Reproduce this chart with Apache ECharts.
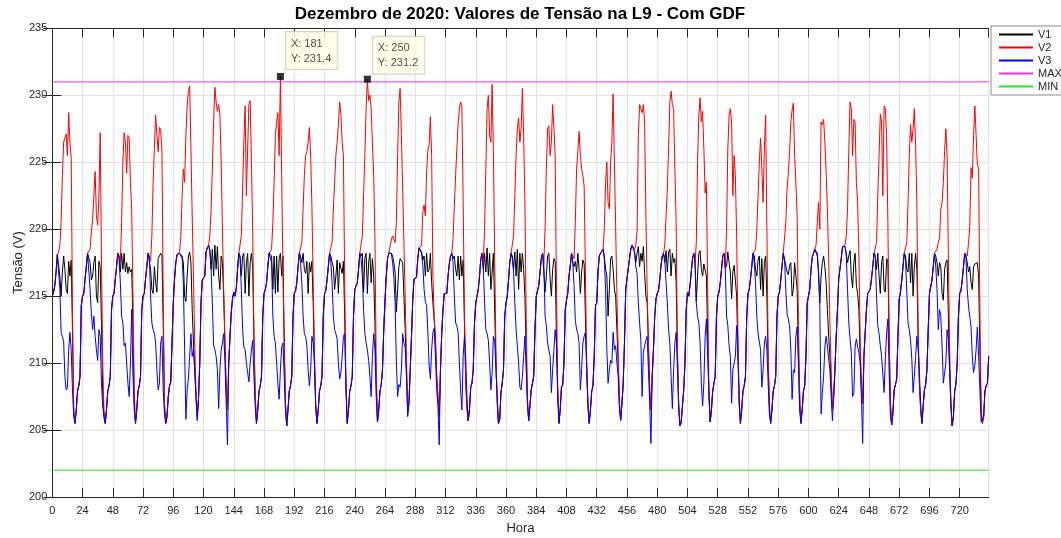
<!DOCTYPE html>
<html>
<head>
<meta charset="utf-8">
<title>Dezembro de 2020: Valores de Tensão na L9 - Com GDF</title>
<script src="https://cdn.jsdelivr.net/npm/echarts@6/dist/echarts.min.js"></script>
<style>
  html, body { margin: 0; padding: 0; background: #ffffff; }
  #chart { width: 1061px; height: 538px; }
</style>
</head>
<body>
<div id="chart"></div>
<script>
// Hourly phase voltages for December 2020 (one row per day, hours 0..23)
const v1 = [
  215.0,215.3,215.8,216.8,218.1,218.2,216.5,215.0,216.8,218.0,217.0,215.5,215.2,217.6,216.5,217.7,212.5,206.3,205.5,206.5,207.9,208.3,209.0,214.3,
  215.0,215.2,216.3,217.2,218.2,218.2,217.5,216.2,216.5,217.5,218.0,215.0,214.5,217.6,217.2,213.0,208.0,206.0,205.5,206.5,207.9,208.3,209.0,214.0,
  215.0,215.2,216.3,217.2,218.2,218.0,216.8,218.2,217.0,218.2,216.8,217.5,216.7,217.2,216.8,217.0,213.0,207.0,205.5,206.5,207.9,208.3,209.0,214.0,
  215.0,215.2,216.3,217.2,218.2,218.2,217.0,215.5,215.2,217.2,216.0,215.3,217.8,218.0,218.2,218.0,213.0,207.0,205.5,206.0,207.5,208.3,208.6,211.5,
  214.5,216.3,217.5,218.1,218.2,218.2,218.3,218.0,217.5,215.0,214.6,216.5,218.0,218.3,217.5,214.0,211.5,209.5,207.5,206.0,207.3,210.0,214.5,216.2,
  216.3,216.5,218.3,218.6,218.8,218.5,217.0,218.5,216.5,218.8,217.0,218.7,216.5,215.5,218.0,217.5,215.0,211.5,208.0,206.5,210.0,212.0,213.8,214.8,
  215.3,215.0,215.6,217.0,218.2,218.0,216.5,218.0,218.2,215.2,217.5,218.2,215.0,217.5,218.2,217.2,212.0,207.5,205.5,206.5,207.9,208.3,209.0,213.5,
  215.2,215.5,216.0,217.2,218.2,218.2,218.0,215.5,218.0,215.2,218.0,215.3,217.8,218.2,216.5,218.0,212.0,207.0,205.3,206.5,207.9,208.3,209.0,213.5,
  215.2,215.4,216.0,217.2,218.2,218.0,217.5,218.2,217.0,216.7,217.6,215.2,217.5,216.8,217.6,214.5,210.0,206.8,205.5,206.5,207.9,208.3,209.0,213.5,
  215.2,215.4,216.2,217.2,218.2,218.0,217.5,217.2,215.5,216.5,217.7,215.2,217.5,217.5,216.7,217.6,213.5,208.0,205.5,206.5,207.9,208.3,209.0,213.5,
  215.5,215.4,216.0,217.0,218.2,218.0,218.2,215.3,217.8,218.2,215.2,217.5,218.2,216.0,217.8,216.5,213.0,208.5,205.6,206.5,207.9,208.4,209.5,212.5,
  214.7,216.5,217.8,218.2,218.2,218.2,218.0,217.5,216.8,213.8,215.5,217.2,217.8,217.8,217.5,215.0,212.5,209.5,206.3,207.0,209.5,212.0,214.7,216.3,
  216.3,216.4,217.8,218.6,218.7,218.3,217.7,218.0,216.5,218.2,216.8,217.0,218.2,216.0,214.5,214.4,212.0,209.0,207.5,206.0,209.5,212.2,214.0,215.2,
  215.2,215.2,216.5,217.4,218.0,218.2,217.8,218.0,217.0,216.5,218.0,216.2,218.0,216.5,217.7,213.0,209.0,206.8,205.7,206.5,208.2,208.5,209.5,213.0,
  214.5,215.0,215.5,216.5,217.8,218.0,217.0,218.2,216.8,218.6,216.5,218.2,215.5,216.8,218.2,214.0,210.0,207.0,205.5,205.8,207.8,208.5,209.5,213.5,
  214.5,215.0,216.2,217.5,218.2,218.0,217.0,218.3,216.5,218.5,215.5,218.2,216.8,218.2,217.0,215.0,211.0,207.0,205.7,205.8,208.0,208.5,209.0,212.5,
  215.0,215.1,215.8,216.8,217.8,218.2,216.8,215.3,216.5,218.0,218.2,216.3,215.0,217.0,217.8,217.6,212.0,207.5,205.5,206.5,208.2,208.4,210.0,214.0,
  214.7,215.2,216.5,217.3,218.2,217.5,217.2,217.6,216.8,218.2,217.0,215.2,216.8,217.7,217.4,213.5,209.5,206.8,205.5,206.5,207.9,208.3,210.5,214.3,
  214.5,216.8,218.0,218.2,218.2,218.5,218.0,217.0,216.5,213.5,215.5,217.8,218.0,217.0,215.5,215.0,212.5,210.0,207.0,205.8,207.0,208.5,211.5,215.5,
  216.3,216.4,217.8,218.5,218.8,218.8,218.3,217.5,218.2,218.7,217.2,218.2,217.6,218.7,216.7,215.0,214.5,211.5,208.0,206.5,209.0,211.0,213.5,214.8,
  215.2,215.4,216.2,217.3,218.0,218.2,217.5,218.4,216.8,218.3,218.5,216.5,218.2,217.5,217.8,216.0,211.0,207.0,205.3,205.6,206.8,208.0,210.0,214.0,
  215.3,215.0,215.8,216.8,217.8,218.2,217.3,214.6,216.5,218.2,218.4,217.0,216.5,217.4,217.3,216.5,212.0,207.5,205.6,206.5,207.9,208.5,209.0,213.5,
  215.0,215.3,216.0,217.0,218.0,218.2,217.5,217.2,218.3,217.5,216.8,214.8,216.8,217.3,217.2,215.0,211.0,207.0,205.5,206.5,207.9,208.3,209.0,213.5,
  215.2,215.5,216.3,217.2,218.2,218.0,217.0,216.5,217.7,218.0,215.5,217.8,215.0,217.5,218.0,215.0,210.0,206.8,205.5,206.5,207.9,208.3,209.0,213.5,
  215.0,215.3,216.2,217.2,218.2,218.2,217.3,216.8,216.6,217.3,217.5,215.0,215.5,217.5,217.6,215.5,211.0,207.0,205.5,206.5,207.9,208.3,210.5,214.5,
  215.0,215.5,217.0,217.9,218.2,218.5,218.6,218.2,216.5,214.5,216.5,217.5,218.0,217.2,216.0,214.0,212.0,210.5,208.5,206.5,207.5,209.5,212.0,214.0,
  216.3,216.4,217.8,218.7,218.8,218.7,218.2,217.5,218.0,218.4,216.5,215.6,217.5,218.2,215.8,215.2,214.0,210.5,208.0,207.0,210.5,212.3,214.0,215.2,
  215.2,215.5,216.3,217.2,218.2,218.0,217.0,218.2,216.5,215.2,217.5,218.0,215.5,215.3,217.8,217.5,212.0,207.0,205.4,206.3,208.0,208.4,208.8,212.0,
  214.8,215.3,216.2,217.2,218.2,218.0,217.0,216.8,218.2,216.0,218.2,215.0,217.2,218.2,217.0,212.0,208.5,206.5,205.5,206.8,208.0,208.4,209.5,212.5,
  215.2,215.3,216.2,217.2,218.2,218.0,217.5,216.5,217.5,217.2,215.2,214.7,217.0,217.5,217.7,213.5,209.5,206.8,205.3,206.0,207.9,208.4,210.0,213.5,
  215.2,215.4,216.2,217.2,218.2,218.0,217.5,216.8,217.2,216.0,215.5,217.2,217.4,217.5,217.5,216.5,211.0,206.5,205.5,206.0,207.9,208.3,208.5,210.5
];
const v2 = [
  215.0,215.3,215.8,216.8,218.1,218.3,218.8,220.5,224.0,226.5,226.8,227.1,225.5,228.7,226.5,225.3,214.0,206.5,205.5,206.5,207.9,208.3,209.0,214.3,
  215.0,215.2,216.3,217.2,218.2,218.2,218.5,219.8,220.8,222.5,224.3,221.0,220.3,222.5,227.2,218.0,210.0,206.5,205.5,206.5,207.9,208.3,209.0,214.0,
  215.0,215.2,216.3,217.2,218.2,218.0,217.5,220.5,225.0,227.2,226.5,224.2,227.0,226.8,223.5,221.5,215.0,208.0,205.5,206.5,207.9,208.3,209.0,214.0,
  215.0,215.2,216.3,217.2,218.2,218.2,217.6,219.5,223.5,226.0,228.5,227.0,225.8,227.6,227.4,225.8,215.0,207.0,205.5,206.0,207.5,208.3,208.6,211.5,
  214.5,216.3,217.5,218.1,218.2,218.3,219.5,222.5,224.5,223.5,227.0,229.2,230.3,230.7,226.0,221.0,216.5,211.5,208.0,206.0,207.3,210.0,214.5,216.2,
  216.3,216.5,218.3,218.6,218.8,219.5,221.5,224.5,228.0,230.6,229.5,228.8,229.3,228.5,225.0,220.0,215.5,211.5,208.0,206.5,210.0,212.0,213.8,214.8,
  215.3,215.0,215.6,217.0,218.2,218.3,219.5,223.0,226.6,229.2,222.5,226.0,229.3,229.6,225.0,220.0,212.0,207.5,205.5,206.5,207.9,208.3,209.0,213.5,
  215.2,215.5,216.0,217.2,218.2,218.2,218.5,220.5,223.5,227.0,228.0,228.7,225.5,231.4,224.0,217.0,211.0,207.0,205.3,206.5,207.9,208.3,209.0,213.5,
  215.2,215.4,216.0,217.2,218.2,218.2,219.0,221.5,224.0,225.5,225.8,226.5,227.6,225.5,221.7,216.0,211.0,207.0,205.5,206.5,207.9,208.3,209.0,213.5,
  215.2,215.4,216.2,217.2,218.2,218.2,219.0,221.5,223.5,225.5,226.5,227.8,229.5,228.5,226.5,225.5,216.0,208.5,205.5,206.5,207.9,208.3,209.0,213.5,
  215.5,215.4,216.0,217.0,218.2,218.3,219.5,222.5,225.5,229.0,231.2,229.6,230.0,229.0,226.5,224.0,219.5,210.0,205.6,206.5,207.9,208.4,209.5,212.5,
  214.7,216.5,217.8,218.2,218.2,219.2,219.5,219.6,219.0,220.5,225.5,229.5,230.5,227.0,223.0,219.0,215.0,210.5,206.5,207.0,209.5,212.0,214.7,216.3,
  216.3,216.4,217.8,218.6,218.7,218.8,221.3,221.8,221.0,224.2,225.9,226.3,228.4,225.5,216.5,213.5,211.5,209.0,207.5,206.0,209.5,212.2,214.0,215.2,
  215.2,215.2,216.5,217.4,218.0,218.2,219.3,221.7,224.0,226.0,227.9,229.0,229.5,229.2,222.0,214.0,208.5,206.5,205.7,206.5,208.2,208.5,209.5,213.0,
  214.5,215.0,215.5,216.5,217.8,218.2,217.5,220.0,224.5,229.0,230.0,227.0,226.5,230.8,225.8,218.0,211.0,207.5,205.5,205.8,207.8,208.5,209.5,213.5,
  214.5,215.0,216.2,217.5,218.2,218.2,219.5,222.5,225.5,227.5,228.3,226.5,227.5,230.5,227.0,222.0,213.5,207.5,205.7,205.8,208.0,208.5,209.0,212.5,
  215.0,215.1,215.8,216.8,217.8,218.2,217.5,220.0,224.5,227.5,227.7,225.5,226.5,229.3,227.6,225.5,216.0,208.5,205.5,206.5,208.2,208.4,210.0,214.0,
  214.7,215.2,216.5,217.3,218.2,218.2,217.8,220.5,224.5,225.8,227.3,225.5,224.5,224.0,223.2,217.0,210.0,207.0,205.5,206.5,207.9,208.3,210.5,214.3,
  214.5,216.8,218.0,218.2,218.2,218.5,220.0,223.5,225.0,222.0,221.5,225.0,226.5,230.1,225.0,220.2,215.0,211.0,207.0,205.8,207.0,208.5,211.5,215.5,
  216.3,216.4,217.8,218.5,218.8,218.8,218.5,218.8,219.8,227.0,229.3,229.0,228.7,229.3,228.0,221.0,215.5,211.5,208.0,206.5,209.0,211.0,213.5,214.8,
  215.2,215.4,216.2,217.3,218.0,218.2,218.8,221.0,223.0,226.0,229.5,230.3,229.3,229.0,224.5,220.5,211.0,207.0,205.3,205.6,206.8,208.0,210.0,214.0,
  215.3,215.0,215.8,216.8,217.8,218.2,217.5,219.0,225.0,228.5,229.8,228.0,228.8,226.0,222.7,223.5,216.0,208.0,205.6,206.5,207.9,208.5,209.0,213.5,
  215.0,215.3,216.0,217.0,218.0,218.2,217.0,220.0,226.0,228.5,229.0,228.0,222.5,225.5,224.0,219.5,212.5,207.0,205.5,206.5,207.9,208.3,209.0,213.5,
  215.2,215.5,216.3,217.2,218.2,218.2,218.5,220.0,222.5,225.0,226.8,224.5,222.0,226.0,228.5,220.0,211.0,206.5,205.5,206.5,207.9,208.3,209.0,213.5,
  215.0,215.3,216.2,217.2,218.2,218.2,220.5,223.0,224.2,225.8,228.0,228.9,229.4,225.5,223.5,221.0,213.0,208.0,205.5,206.5,207.9,208.3,210.5,214.5,
  215.0,215.5,217.0,217.9,218.2,218.5,218.8,220.5,222.0,220.0,228.0,227.8,228.2,226.5,224.3,221.5,218.0,213.0,209.5,206.5,207.5,209.5,212.0,214.0,
  216.3,216.4,217.8,218.7,218.8,218.8,219.5,221.5,226.0,229.5,229.0,225.5,228.2,228.0,223.5,222.0,218.0,212.0,208.5,207.0,210.5,212.3,214.0,215.2,
  215.2,215.5,216.3,217.2,218.2,218.2,219.0,222.5,225.5,228.6,228.0,222.5,229.2,229.0,227.0,220.5,212.0,207.0,205.4,206.3,208.0,208.4,208.8,212.0,
  214.8,215.3,216.2,217.2,218.2,218.2,219.0,222.0,225.5,227.8,226.5,227.5,229.0,226.3,222.0,212.5,208.5,206.5,205.5,206.8,208.0,208.4,209.5,212.5,
  215.2,215.3,216.2,217.2,218.2,218.3,218.5,219.0,219.3,221.5,222.0,223.5,225.8,227.5,225.5,218.0,211.0,207.0,205.3,206.0,207.9,208.4,210.0,213.5,
  215.2,215.4,216.2,217.2,218.2,218.2,218.0,219.0,220.2,224.6,223.8,227.0,229.2,227.0,224.8,224.6,214.0,206.5,205.5,206.0,207.9,208.3,208.5,210.5
];
const v3 = [
  215.0,215.3,215.8,216.8,218.1,218.2,215.5,212.3,212.0,211.6,209.0,208.0,208.2,211.0,212.3,211.0,208.0,206.0,205.5,206.5,207.9,208.3,209.0,214.3,
  215.0,215.2,216.3,217.2,218.2,218.2,215.5,213.7,212.5,213.5,212.0,211.0,210.2,212.5,212.0,208.5,206.8,206.0,205.5,206.5,207.9,208.3,209.0,214.0,
  215.0,215.2,216.3,217.2,218.2,217.8,216.0,213.5,213.0,211.3,211.5,210.0,208.5,207.5,210.0,214.0,209.0,206.5,205.5,206.5,207.9,208.3,209.0,214.0,
  215.0,215.2,216.3,217.2,218.2,218.0,215.0,213.0,212.5,212.2,211.5,209.5,208.0,208.5,211.5,212.0,208.0,206.2,205.5,206.0,207.5,208.3,208.6,211.5,
  214.5,216.3,217.5,218.1,218.2,218.2,218.2,217.8,216.0,211.0,205.8,208.0,208.8,210.5,212.2,210.5,211.0,209.5,207.5,205.7,207.3,210.0,214.5,216.2,
  216.3,216.5,218.3,218.6,218.8,218.3,217.0,214.5,211.3,211.0,210.5,209.5,206.6,209.5,211.0,211.5,212.2,210.0,207.0,203.9,210.0,212.0,213.8,214.8,
  215.3,215.0,215.6,217.0,218.2,217.8,215.5,212.5,211.2,211.0,210.0,209.3,208.6,210.0,211.0,211.7,209.0,206.8,205.5,206.5,207.9,208.3,209.0,213.5,
  215.2,215.5,216.0,217.2,218.2,218.2,217.5,213.5,212.0,211.5,210.0,208.5,207.3,209.5,211.2,211.5,209.0,206.5,205.3,206.5,207.9,208.3,209.0,213.5,
  215.2,215.4,216.0,217.2,218.2,217.5,216.0,213.5,212.2,212.0,211.3,209.5,208.3,209.5,212.0,211.5,210.0,206.8,205.5,206.5,207.9,208.3,209.0,213.5,
  215.2,215.4,216.2,217.2,218.2,217.6,216.0,213.5,212.5,212.2,211.8,210.0,208.8,209.3,210.5,212.0,212.2,208.5,205.5,206.5,207.9,208.3,209.0,213.5,
  215.5,215.4,216.0,217.0,218.2,217.8,216.5,214.0,212.2,211.5,211.0,210.2,209.0,207.5,210.5,212.2,211.0,207.5,205.6,206.5,207.9,208.4,209.5,212.5,
  214.7,216.5,217.8,218.2,218.2,218.2,217.5,216.5,214.5,210.0,207.5,208.4,208.2,209.5,212.2,211.5,211.2,209.0,206.0,207.0,209.5,212.0,214.7,216.3,
  216.3,216.4,217.8,218.6,218.7,218.2,217.3,215.5,214.6,214.3,212.3,209.8,208.8,211.0,212.3,212.6,210.5,208.0,206.8,203.9,209.5,212.2,214.0,215.2,
  215.2,215.2,216.5,217.4,218.0,218.2,217.5,215.0,213.0,212.8,212.3,210.0,208.0,206.5,210.5,212.0,210.5,207.5,205.7,206.5,208.2,208.5,209.5,213.0,
  214.5,215.0,215.5,216.5,217.8,218.2,217.2,214.5,212.5,212.2,211.7,210.0,208.0,209.3,212.0,211.7,209.5,207.5,205.5,205.8,207.8,208.5,209.5,213.5,
  214.5,215.0,216.2,217.5,218.2,217.8,216.8,214.5,212.5,211.3,210.0,208.2,208.0,209.0,210.5,212.0,209.5,207.0,205.7,205.8,208.0,208.5,209.0,212.5,
  215.0,215.1,215.8,216.8,217.8,218.2,217.5,213.5,212.8,211.5,211.6,210.5,207.8,209.5,211.0,212.5,211.5,208.0,205.5,206.5,208.2,208.4,210.0,214.0,
  214.7,215.2,216.5,217.3,218.2,217.5,215.8,213.2,212.5,212.2,211.5,208.0,209.5,211.5,212.0,212.3,210.0,207.0,205.5,206.5,207.9,208.3,210.5,214.3,
  214.5,216.8,218.0,218.2,218.2,218.5,217.8,215.5,211.0,208.5,209.5,210.2,210.0,212.3,211.0,211.3,210.0,209.0,206.5,205.7,207.0,208.5,211.5,215.5,
  216.3,216.4,217.8,218.5,218.8,218.8,218.3,217.2,216.7,214.5,213.0,211.7,207.5,210.8,211.3,211.7,212.0,209.5,207.0,204.0,209.0,211.0,213.5,214.8,
  215.2,215.4,216.2,217.3,218.0,218.2,217.7,216.0,214.5,212.5,211.5,209.0,206.6,209.5,211.5,212.3,209.5,206.5,205.3,205.6,206.8,208.0,210.0,214.0,
  215.3,215.0,215.8,216.8,217.8,218.2,217.8,214.5,213.5,213.0,211.5,208.5,206.8,208.5,212.0,213.3,210.5,208.0,205.6,206.5,207.9,208.5,209.0,213.5,
  215.0,215.3,216.0,217.0,218.0,218.2,217.0,213.5,212.8,211.3,210.5,207.0,209.5,210.0,210.5,212.8,210.5,207.5,205.5,206.5,207.9,208.3,209.0,213.5,
  215.2,215.5,216.3,217.2,218.2,217.5,216.0,213.5,212.2,212.2,211.0,208.2,209.5,211.5,212.0,211.0,208.5,206.2,205.5,206.5,207.9,208.3,209.0,213.5,
  215.0,215.3,216.2,217.2,218.2,217.7,215.5,213.7,213.3,212.8,211.0,207.3,209.5,209.3,212.0,212.7,210.0,206.5,205.5,206.5,207.9,208.3,210.5,214.5,
  215.0,215.5,217.0,217.9,218.2,218.5,218.6,218.0,217.0,214.2,206.2,207.8,209.0,211.2,212.0,211.3,210.3,209.5,207.5,205.7,207.5,209.5,212.0,214.0,
  216.3,216.4,217.8,218.7,218.8,218.7,218.0,215.5,213.0,211.8,210.8,207.5,207.8,211.2,211.8,211.2,210.8,210.0,207.5,204.0,210.5,212.3,214.0,215.2,
  215.2,215.5,216.3,217.2,218.2,218.0,215.0,212.8,212.2,211.3,210.5,209.2,207.8,210.3,212.2,213.3,209.3,206.0,205.4,206.3,208.0,208.4,208.8,212.0,
  214.8,215.3,216.2,217.2,218.2,217.8,215.3,213.0,212.5,211.7,210.3,207.8,209.0,210.5,212.0,211.0,209.3,207.0,205.5,206.8,208.0,208.4,209.5,212.5,
  215.2,215.3,216.2,217.2,218.2,217.2,215.5,212.5,214.0,213.5,211.3,208.5,208.5,210.0,212.5,211.7,209.5,207.0,205.3,206.0,207.9,208.4,210.0,213.5,
  215.2,215.4,216.2,217.2,218.2,217.8,215.5,214.2,213.5,212.7,210.5,209.3,209.8,211.0,212.7,210.5,208.0,205.6,205.5,206.0,207.9,208.3,208.5,210.5
];

// Regulatory limits (V)
const limitMax = 231;
const limitMin = 202;

// Hours highlighted with data tips on the V2 curve
const tipHours = [181, 250];

// Axis layout
const hourFirst = 0;
const hourLast = v1.length - 1;
const hourStep = 24;
const voltFloor = 200;
const voltCeil = 235;
const voltStep = 5;

const font = '"Liberation Sans", Arial, Helvetica, sans-serif';
const ink = '#262626';
const gridInk = '#e1e1e1';

const asPairs = arr => arr.map((v, i) => [i, v]);

function lineSeries(name, values, color) {
  return {
    name: name,
    type: 'line',
    data: values,
    symbol: 'none',
    showSymbol: false,
    lineStyle: { color: color, width: 1 },
    itemStyle: { color: color },
    emphasis: { disabled: true },
    animation: false,
    xAxisIndex: 0,
    yAxisIndex: 0
  };
}

const tipOffsets = [[9, -41], [9, -39]];

const tipSeries = {
  name: 'tips',
  type: 'scatter',
  symbol: 'rect',
  symbolSize: 7,
  itemStyle: { color: '#000000' },
  z: 10,
  animation: false,
  data: tipHours.map((h, i) => ({
    value: [h, v2[h]],
    label: {
      show: true,
      position: tipOffsets[i],
      align: 'left',
      verticalAlign: 'top',
      formatter: p => 'X: ' + p.value[0] + '\nY: ' + p.value[1].toFixed(1),
      fontFamily: font,
      fontSize: 11,
      lineHeight: 15,
      color: '#222222',
      backgroundColor: '#ffffe6',
      borderColor: '#c8c8b4',
      borderWidth: 1,
      padding: [4, 6, 3, 5]
    }
  }))
};

const chart = echarts.init(document.getElementById('chart'), null, { renderer: 'canvas' });

chart.setOption({
  animation: false,
  backgroundColor: '#ffffff',
  textStyle: { fontFamily: font },
  title: {
    text: 'Dezembro de 2020: Valores de Tensão na L9 - Com GDF',
    left: 520,
    top: 6,
    textAlign: 'center',
    padding: 0,
    textStyle: { fontFamily: font, fontSize: 17, fontWeight: 'bold', color: '#000000' }
  },
  legend: {
    data: ['V1', 'V2', 'V3', 'MAX', 'MIN'],
    orient: 'vertical',
    left: 991,
    top: 26,
    padding: [3, 8, 3, 7],
    itemWidth: 34,
    itemHeight: 13,
    itemGap: 2,
    itemStyle: { opacity: 0 },
    backgroundColor: '#ffffff',
    borderColor: '#8c8c8c',
    borderWidth: 1,
    borderRadius: 0,
    textStyle: { fontFamily: font, fontSize: 11, color: ink },
    selectedMode: false
  },
  grid: {
    left: 52.3,
    right: 72.3,
    top: 28.3,
    bottom: 41,
    containLabel: false,
    outerBoundsMode: 'none'
  },
  xAxis: [
    {
      type: 'value',
      position: 'bottom',
      min: hourFirst,
      max: hourLast,
      interval: hourStep,
      name: 'Hora',
      nameLocation: 'middle',
      nameGap: 25,
      nameMoveOverlap: false,
      nameTextStyle: { fontFamily: font, fontSize: 13, color: ink },
      axisLine: { show: true, lineStyle: { color: ink, width: 1 } },
      axisTick: { show: true, inside: true, length: 9, lineStyle: { color: ink } },
      axisLabel: { show: true, margin: 8, fontSize: 11, color: ink, showMaxLabel: false, fontFamily: font },
      splitLine: { show: true, lineStyle: { color: gridInk, width: 1 } }
    },
    {
      type: 'value',
      position: 'top',
      min: hourFirst,
      max: hourLast,
      interval: hourStep,
      axisLine: { show: true, lineStyle: { color: ink, width: 1 } },
      axisTick: { show: true, inside: true, length: 9, lineStyle: { color: ink } },
      axisLabel: { show: false },
      splitLine: { show: false }
    }
  ],
  yAxis: [
    {
      type: 'value',
      position: 'left',
      min: voltFloor,
      max: voltCeil,
      interval: voltStep,
      name: 'Tensão (V)',
      nameLocation: 'middle',
      nameGap: 27,
      nameMoveOverlap: false,
      nameTextStyle: { fontFamily: font, fontSize: 13, color: ink },
      axisLine: { show: true, lineStyle: { color: ink, width: 1 } },
      axisTick: { show: true, inside: true, length: 9, lineStyle: { color: ink } },
      axisLabel: { show: true, margin: 5, fontSize: 11, color: ink, fontFamily: font },
      splitLine: { show: true, lineStyle: { color: gridInk, width: 1 } }
    },
    {
      type: 'value',
      position: 'right',
      min: voltFloor,
      max: voltCeil,
      interval: voltStep,
      axisLine: { show: true, lineStyle: { color: ink, width: 1 } },
      axisTick: { show: true, inside: true, length: 9, lineStyle: { color: ink } },
      axisLabel: { show: false },
      splitLine: { show: false }
    }
  ],
  series: [
    lineSeries('V1', asPairs(v1), '#000000'),
    lineSeries('V2', asPairs(v2), '#ff0000'),
    lineSeries('V3', asPairs(v3), '#0000ff'),
    lineSeries('MAX', [[hourFirst, limitMax], [hourLast, limitMax]], '#ee33ee'),
    lineSeries('MIN', [[hourFirst, limitMin], [hourLast, limitMin]], '#22e622'),
    tipSeries
  ]
});
</script>
</body>
</html>
